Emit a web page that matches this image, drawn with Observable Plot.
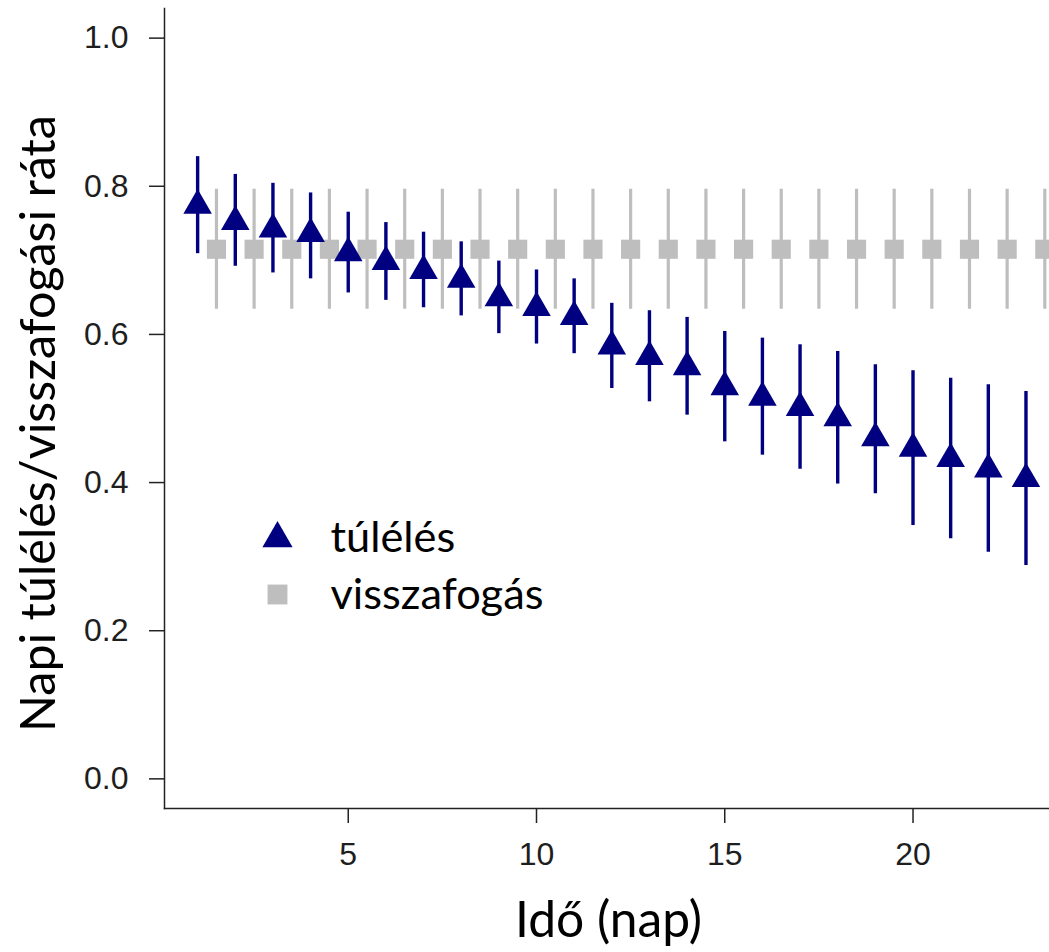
<!DOCTYPE html>
<html>
<head>
<meta charset="utf-8">
<script src="https://cdn.jsdelivr.net/npm/d3@7"></script>
<script src="https://cdn.jsdelivr.net/npm/@observablehq/plot@0.6"></script>
<style>
  html, body { margin: 0; padding: 0; background: white; overflow: hidden; }
  #chart { width: 1049px; height: 952px; }
</style>
</head>
<body>
<div id="chart"></div>
<script>
// ---- data ----
const days = [1, 2, 3, 4, 5, 6, 7, 8, 9, 10, 11, 12, 13, 14, 15, 16, 17, 18, 19, 20, 21, 22, 23];
const survival = [0.774, 0.752, 0.742, 0.736, 0.710, 0.698, 0.686, 0.674, 0.649, 0.636, 0.624, 0.584,
                  0.570, 0.556, 0.529, 0.515, 0.501, 0.487, 0.460, 0.446, 0.432, 0.418, 0.405];
const survivalLow = [0.709, 0.692, 0.683, 0.675, 0.656, 0.646, 0.636, 0.625, 0.601, 0.587, 0.574, 0.527,
                     0.509, 0.491, 0.455, 0.437, 0.418, 0.398, 0.385, 0.342, 0.324, 0.306, 0.288];
const survivalHigh = [0.840, 0.816, 0.804, 0.791, 0.765, 0.751, 0.738, 0.725, 0.699, 0.687, 0.675, 0.642,
                      0.632, 0.623, 0.604, 0.595, 0.586, 0.577, 0.559, 0.551, 0.541, 0.532, 0.523];

const recaptureDays = [1.5, 2.5, 3.5, 4.5, 5.5, 6.5, 7.5, 8.5, 9.5, 10.5, 11.5, 12.5, 13.5, 14.5, 15.5,
                       16.5, 17.5, 18.5, 19.5, 20.5, 21.5, 22.5, 23.5];
const recapture = [0.715, 0.715, 0.715, 0.715, 0.715, 0.715, 0.715, 0.715, 0.715, 0.715, 0.715, 0.715,
                   0.715, 0.715, 0.715, 0.715, 0.715, 0.715, 0.715, 0.715, 0.715, 0.715, 0.715];
const recaptureLow = [0.634, 0.634, 0.634, 0.634, 0.634, 0.634, 0.634, 0.634, 0.634, 0.634, 0.634, 0.634,
                      0.634, 0.634, 0.634, 0.634, 0.634, 0.634, 0.634, 0.634, 0.634, 0.634, 0.634];
const recaptureHigh = [0.796, 0.796, 0.796, 0.796, 0.796, 0.796, 0.796, 0.796, 0.796, 0.796, 0.796, 0.796,
                       0.796, 0.796, 0.796, 0.796, 0.796, 0.796, 0.796, 0.796, 0.796, 0.796, 0.796];

const xTicks = [5, 10, 15, 20];
const yTicks = [0.0, 0.2, 0.4, 0.6, 0.8, 1.0];
const legendLabels = ["túlélés", "visszafogás"];
const xLabel = "Idő (nap)";
const yLabel = "Napi túlélés/visszafogási ráta";

// ---- tables ----
const survTable = days.map((d, i) => ({day: d, est: survival[i], lo: survivalLow[i], hi: survivalHigh[i]}));
const recapTable = recaptureDays.map((d, i) => ({day: d, est: recapture[i], lo: recaptureLow[i], hi: recaptureHigh[i]}));

// ---- styling ----
const navy = "#000080";
const grey = "#bebebe";
const labelFont = "Lato, 'Open Sans', sans-serif";
const tickFont = "'Liberation Sans', Arial, Helvetica, sans-serif";

// fit a humanist font to the width the reference text occupies
function fitSize(text, family, targetWidth) {
  const ctx = document.createElement("canvas").getContext("2d");
  ctx.font = `100px ${family}`;
  return 100 * targetWidth / ctx.measureText(text).width;
}
const yLabelSize = fitSize(yLabel, labelFont, 617);
const xLabelSize = fitSize(xLabel, labelFont, 187);
const legendSize = fitSize(legendLabels[1], labelFont, 213);

const W = 1049, H = 952;
const mL = 164, mT = 8, mB = 144, mR = 0;
const frameBottom = H - mB;

const chart = Plot.plot({
  width: W,
  height: H,
  marginLeft: mL,
  marginRight: mR,
  marginTop: mT,
  marginBottom: mB,
  style: {background: "white", color: "#1e1e1e", fontFamily: tickFont, overflow: "hidden"},
  x: {domain: [0.12, 23.625]},
  y: {domain: [-0.04, 1.04]},
  marks: [
    Plot.frame({anchor: "left", stroke: "#222", strokeWidth: 1.5}),
    Plot.frame({anchor: "bottom", stroke: "#222", strokeWidth: 1.5}),
    Plot.axisY({ticks: yTicks, tickFormat: d3.format(".1f"), tickSize: 15, tickPadding: 21,
                fontSize: 32, label: null, stroke: "#222", strokeWidth: 1.5}),
    Plot.axisX({ticks: xTicks, tickFormat: d3.format("d"), tickSize: 15, tickPadding: 19,
                fontSize: 32, label: null, stroke: "#222", strokeWidth: 1.5}),
    // recapture (grey squares)
    Plot.ruleX(recapTable, {x: "day", y1: "lo", y2: "hi", stroke: grey, strokeWidth: 3.2}),
    Plot.dot(recapTable, {x: "day", y: "est", symbol: "square", fill: grey, r: 10.8}),
    // survival (navy triangles)
    Plot.ruleX(survTable, {x: "day", y1: "lo", y2: "hi", stroke: navy, strokeWidth: 3.4}),
    Plot.dot(survTable, {x: "day", y: "est", symbol: "triangle", fill: navy, r: 10.6}),
    // legend
    Plot.dot([legendLabels[0]], {frameAnchor: "top-left", dx: 113, dy: 530, symbol: "triangle", fill: navy, r: 11.2}),
    Plot.dot([legendLabels[1]], {frameAnchor: "top-left", dx: 113, dy: 586, symbol: "square", fill: grey, r: 11.2}),
    Plot.text([legendLabels[0]], {frameAnchor: "top-left", text: d => d, textAnchor: "start", lineAnchor: "middle",
              dx: 166, dy: 551 - mT - 0.32 * legendSize, fontSize: legendSize, fontFamily: labelFont, fill: "#000"}),
    Plot.text([legendLabels[1]], {frameAnchor: "top-left", text: d => d, textAnchor: "start", lineAnchor: "middle",
              dx: 166, dy: 608 - mT - 0.32 * legendSize, fontSize: legendSize, fontFamily: labelFont, fill: "#000"}),
    // axis titles
    Plot.text([xLabel], {frameAnchor: "bottom", text: d => d, textAnchor: "middle", lineAnchor: "middle",
              dx: 608 - (mL + (W - mL - mR) / 2),
              dy: 936 - frameBottom - 0.32 * xLabelSize, fontSize: xLabelSize, fontFamily: labelFont, fill: "#000"}),
    Plot.text([yLabel], {frameAnchor: "left", text: d => d, rotate: -90, textAnchor: "middle", lineAnchor: "middle",
              dx: (54 - 0.32 * yLabelSize) - mL, dy: 423 - (mT + frameBottom) / 2,
              fontSize: yLabelSize, fontFamily: labelFont, fill: "#000"})
  ]
});

document.getElementById("chart").appendChild(chart);
</script>
</body>
</html>
